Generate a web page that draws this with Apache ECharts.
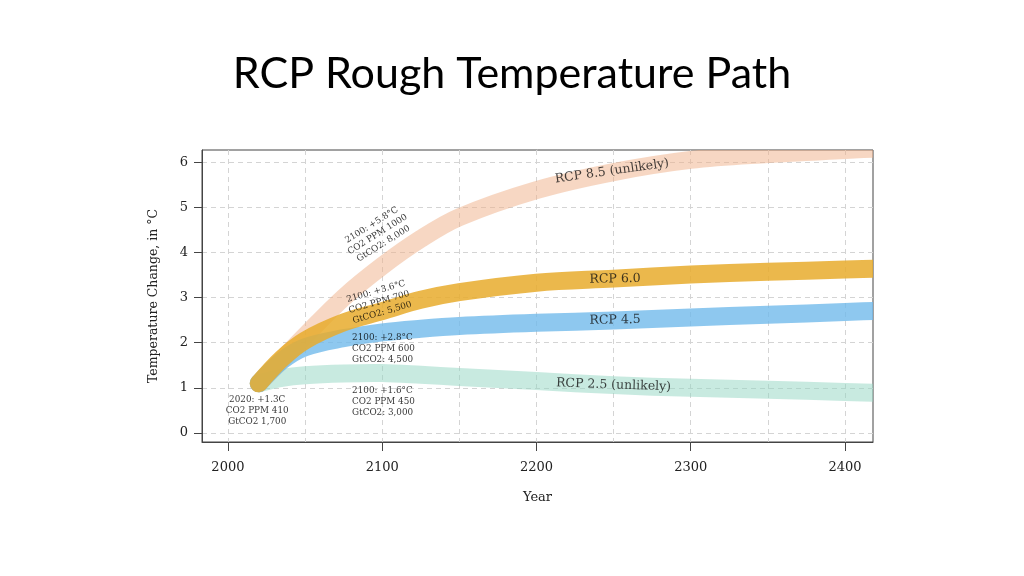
<!DOCTYPE html>
<html>
<head>
<meta charset="utf-8">
<script src="https://cdn.jsdelivr.net/npm/echarts@6/dist/echarts.min.js"></script>
<style>html,body{margin:0;padding:0;background:#fff;}#c{width:1024px;height:576px;}</style>
</head>
<body>
<div id="c"></div>
<script>
// ---- data ----
const titleText = 'RCP Rough Temperature Path';
const years = [2020, 2035, 2050, 2075, 2100, 2125, 2150, 2200, 2250, 2300, 2350, 2400, 2430];
const rcp85 = [1.1, 1.62, 2.15, 3.0, 3.7, 4.3, 4.78, 5.38, 5.78, 6.05, 6.18, 6.27, 6.32];
const rcp60 = [1.1, 1.65, 2.05, 2.45, 2.7, 2.95, 3.12, 3.33, 3.42, 3.51, 3.57, 3.62, 3.65];
const rcp45 = [1.1, 1.6, 1.9, 2.1, 2.23, 2.31, 2.37, 2.44, 2.49, 2.56, 2.62, 2.68, 2.72];
const rcp26 = [1.1, 1.22, 1.28, 1.32, 1.33, 1.29, 1.24, 1.15, 1.06, 1.0, 0.96, 0.91, 0.88];
const seriesNames = ['RCP 8.5 (unlikely)', 'RCP 2.5 (unlikely)', 'RCP 4.5', 'RCP 6.0'];
const xTickLabels = [2000, 2100, 2200, 2300, 2400];
const yTickLabels = [0, 1, 2, 3, 4, 5, 6];
const xName = 'Year';
const yName = 'Temperature Change, in °C';
const noteTexts = [
  '2020: +1.3C\nCO2 PPM 410\nGtCO2 1,700',
  '2100: +5.8°C\nCO2 PPM 1000\nGtCO2: 8,000',
  '2100: +3.6°C\nCO2 PPM 700\nGtCO2: 5,500',
  '2100: +2.8°C\nCO2 PPM 600\nGtCO2: 4,500',
  '2100: +1.6°C\nCO2 PPM 450\nGtCO2: 3,000'
];

// ---- build ----
const pairs = vals => years.map((y, i) => [y, vals[i]]);
const serif = 'DejaVu Serif';
const bandColors = ['rgba(240,175,135,0.5)', 'rgba(150,215,195,0.52)', 'rgba(110,185,235,0.78)', 'rgba(232,172,45,0.85)'];
const bandData = [rcp85, rcp26, rcp45, rcp60];

const bandSeries = bandData.map((vals, i) => {
  const pts = pairs(vals);
  return {
    name: seriesNames[i],
    type: 'custom',
    clip: true,
    silent: true,
    z: 2 + i,
    data: pts,
    encode: { x: 0, y: 1 },
    renderItem: (params, api) => {
      if (params.dataIndex !== 0) return null;
      const points = pts.map(p => api.coord(p));
      return {
        type: 'polyline',
        shape: { points: points, smooth: 0.35 },
        style: { stroke: bandColors[i], lineWidth: 18, lineCap: 'round', lineJoin: 'round', fill: null }
      };
    }
  };
});

const lbl = (extra) => Object.assign({
  show: true, position: 'inside', fontFamily: serif, color: '#111',
  fontSize: 12.5, align: 'center', verticalAlign: 'middle'
}, extra);

const bandLabelSeries = {
  type: 'scatter', symbolSize: 0, z: 10, silent: true,
  data: [
    { value: [2249, 5.8], label: lbl({ formatter: seriesNames[0], rotate: 8 }) },
    { value: [2250, 1.06], label: lbl({ formatter: seriesNames[1], rotate: -2 }) },
    { value: [2251, 2.5], label: lbl({ formatter: seriesNames[2], rotate: 1 }) },
    { value: [2251, 3.41], label: lbl({ formatter: seriesNames[3], rotate: 1 }) }
  ]
};

const note = (extra) => lbl(Object.assign({ fontSize: 8.8, lineHeight: 11, color: '#000' }, extra));
const noteSeries = {
  type: 'scatter', symbolSize: 0, z: 11, silent: true,
  data: [
    { value: [2019, 0.49], label: note({ formatter: noteTexts[0] }) },
    { value: [2097, 4.4], label: note({ formatter: noteTexts[1], rotate: 32 }) },
    { value: [2098, 2.9], label: note({ formatter: noteTexts[2], rotate: 16 }) },
    { value: [2080.5, 1.86], label: note({ formatter: noteTexts[3], position: [0, 0], align: 'left' }) },
    { value: [2080.5, 0.69], label: note({ formatter: noteTexts[4], position: [0, 0], align: 'left' }) }
  ]
};

const grid = { color: '#d4d4d4', type: [5, 4], width: 1 };
const chart = echarts.init(document.getElementById('c'), null, { renderer: 'canvas' });
chart.setOption({
  backgroundColor: '#fff',
  animation: false,
  title: {
    text: titleText, left: 'center', top: 48,
    textStyle: { fontFamily: 'Lato', fontWeight: 'normal', fontSize: 43, color: '#000' }
  },
  grid: { left: 202, right: 151, top: 150, bottom: 134, show: true, borderColor: '#444', borderWidth: 1, backgroundColor: 'transparent' },
  xAxis: {
    type: 'value', min: 1983.2, max: 2418.2, splitNumber: 5,
    name: xName, nameLocation: 'middle', nameGap: 49,
    nameTextStyle: { fontFamily: serif, fontSize: 13, color: '#222' },
    axisLine: { show: true, onZero: false, lineStyle: { color: '#444', width: 1 } },
    axisTick: { show: true, length: 9, lineStyle: { color: '#444' }, customValues: xTickLabels },
    axisLabel: { fontFamily: serif, fontSize: 13, color: '#222', margin: 19, customValues: xTickLabels, formatter: v => String(v) },
    splitLine: { show: true, lineStyle: grid },
    minorTick: { show: false, splitNumber: 2 },
    minorSplitLine: { show: true, lineStyle: grid }
  },
  yAxis: {
    type: 'value', min: -0.2, max: 6.27, splitNumber: 5,
    name: yName, nameLocation: 'middle', nameGap: 42,
    nameTextStyle: { fontFamily: serif, fontSize: 12.5, color: '#222' },
    axisLine: { show: true, onZero: false, lineStyle: { color: '#444', width: 1 } },
    axisTick: { show: true, length: 8, lineStyle: { color: '#444' }, customValues: yTickLabels },
    axisLabel: { fontFamily: serif, fontSize: 13, color: '#222', margin: 14, customValues: yTickLabels, formatter: v => String(v) },
    splitLine: { show: true, lineStyle: grid }
  },
  series: [...bandSeries, bandLabelSeries, noteSeries]
});
</script>
</body>
</html>
